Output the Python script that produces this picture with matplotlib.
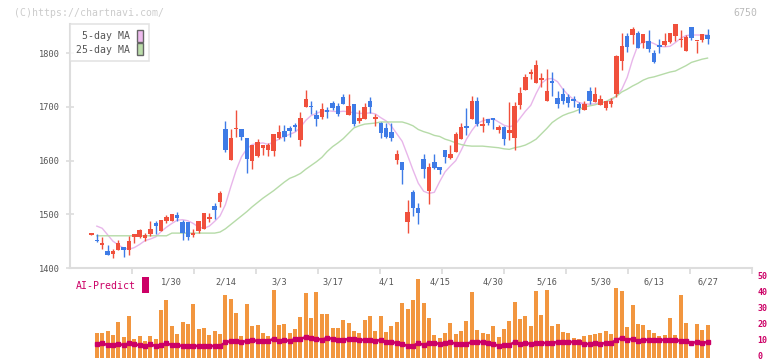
import matplotlib
matplotlib.use('Agg')
import matplotlib.pyplot as plt
import matplotlib.transforms as mtransforms
from matplotlib.patches import Rectangle, Patch

# ---------------- data ----------------
opens = [1462, 1453, 1443.5, 1431, 1427, 1433, 1440, 1433, 1458, 1458,
         1456, 1463, 1484, 1469, 1488, 1488, 1499, 1485, 1485, 1461,
         1469, 1472, 1492, 1515, 1523, 1658, 1602, 1658, 1658, 1643,
         1599, 1609, 1624, 1620, 1618, 1643, 1655, 1660, 1666, 1638,
         1700, 1702, 1685, 1681, 1694, 1707, 1701, 1718, 1685, 1705,
         1674, 1677, 1712, 1678, 1670, 1660, 1653, 1601, 1597, 1486,
         1541, 1511, 1603, 1544, 1597, 1588, 1619, 1604, 1616, 1641,
         1664, 1677, 1711, 1665, 1677, 1679, 1657, 1662, 1651, 1642,
         1703, 1731, 1761, 1744, 1751, 1711, 1748, 1717, 1725, 1718,
         1715, 1705, 1694, 1729, 1709, 1704, 1698, 1706, 1724, 1785,
         1832, 1834, 1837, 1819, 1822, 1800, 1815, 1815, 1821, 1832,
         1824, 1804, 1848, 1822, 1825, 1834]
highs = [1462.6, 1463, 1457, 1442, 1436, 1453, 1440, 1460, 1463, 1472,
         1466, 1487, 1488, 1490, 1499, 1501, 1504, 1490, 1485, 1472,
         1487, 1502, 1503, 1521, 1543, 1674, 1658, 1694, 1658, 1643,
         1630, 1640, 1628.5, 1632, 1649, 1666, 1666, 1664, 1671, 1691,
         1731, 1712, 1694, 1707, 1699, 1712, 1707, 1725, 1724, 1705,
         1694, 1707, 1718, 1686, 1672, 1671, 1671, 1619, 1597, 1526,
         1545, 1522, 1612, 1596, 1612, 1589, 1619, 1630, 1653, 1671,
         1698, 1720, 1718, 1681, 1677, 1679, 1666, 1664, 1709, 1709,
         1737, 1761, 1770, 1787, 1763, 1770, 1765, 1729, 1735, 1724,
         1720, 1709, 1712, 1737, 1738, 1722, 1712, 1716, 1796, 1837,
         1837, 1848, 1841, 1835, 1843, 1806, 1826, 1837, 1837, 1854,
         1843, 1834, 1848, 1822.6, 1835, 1845]
lows = [1462, 1448, 1435, 1424, 1419, 1433, 1420, 1424, 1447, 1455,
        1450, 1460, 1463, 1469, 1483, 1488, 1487, 1452, 1452, 1458,
        1466, 1472, 1486, 1492, 1514, 1616, 1601, 1644, 1639, 1577,
        1584, 1606, 1610, 1608, 1608, 1640, 1636, 1644, 1655, 1627,
        1700, 1686, 1664, 1677, 1679, 1694, 1683, 1706, 1685, 1664,
        1671, 1677, 1688, 1664, 1642, 1642, 1637, 1594, 1557, 1465,
        1497, 1482, 1568, 1519, 1585, 1575, 1595, 1603, 1616, 1641,
        1647, 1677, 1664, 1653, 1666, 1658, 1651, 1630, 1638, 1620,
        1696, 1731, 1752, 1744, 1737, 1711, 1720, 1698, 1706, 1700,
        1700, 1689, 1694, 1705, 1709, 1704, 1694, 1700, 1719, 1768,
        1802, 1817, 1810, 1810, 1802, 1782, 1800, 1814, 1819, 1822,
        1811, 1804, 1824, 1801, 1821, 1817]
closes = [1462.6, 1450, 1447, 1424, 1431, 1446, 1433, 1450, 1463, 1470,
          1462, 1472, 1478, 1489, 1495, 1500, 1493, 1465, 1458, 1466,
          1487, 1502, 1495, 1508, 1539, 1619, 1642, 1658.6, 1644, 1603,
          1630, 1634, 1628.5, 1630, 1649, 1653, 1644, 1656, 1663, 1680,
          1714, 1699, 1677, 1696, 1691, 1698, 1687, 1706, 1702, 1668,
          1679, 1699, 1699, 1678.6, 1652, 1644, 1642, 1612, 1582, 1504,
          1512, 1503, 1585, 1589, 1586, 1582, 1606, 1612, 1649, 1662,
          1660, 1711, 1668, 1668, 1670, 1676, 1662, 1640, 1657, 1701,
          1726, 1755, 1765, 1778, 1752.6, 1729, 1745, 1706, 1711, 1707,
          1711, 1698, 1705, 1712, 1724, 1714, 1712, 1712, 1794, 1813,
          1812, 1845, 1810, 1835, 1808, 1784, 1811, 1822, 1837, 1854,
          1824.6, 1830, 1828, 1822.6, 1835, 1827]

# moving averages, volume and AI-Predict (days 1..115)
ma5 = [1478, 1474, 1462, 1450, 1443, 1437, 1435, 1438, 1444, 1451,
       1454, 1458, 1468, 1476, 1483, 1489, 1490, 1488, 1483, 1476,
       1474, 1478, 1487, 1497, 1518, 1551, 1582, 1607, 1622, 1630,
       1632, 1633, 1630, 1635, 1640, 1645, 1649, 1653, 1662, 1675,
       1684, 1688, 1692, 1693, 1692, 1691, 1692, 1691, 1689, 1688,
       1688, 1689, 1687, 1680, 1674, 1664, 1650, 1636, 1610, 1583,
       1558, 1543, 1539, 1541, 1561, 1579, 1590, 1600, 1619, 1640,
       1656, 1669, 1674, 1677, 1678, 1672, 1666, 1663, 1666, 1679,
       1692, 1703, 1725, 1744, 1752, 1753, 1747, 1733, 1722, 1714,
       1708, 1706, 1705, 1706, 1708, 1709, 1712, 1721, 1733, 1755,
       1788, 1815, 1821, 1822, 1818, 1813, 1812, 1813, 1820, 1828,
       1833, 1834, 1834, 1834, 1834]
ma25 = [1460, 1460, 1460, 1460, 1460, 1460, 1460, 1460, 1460, 1460,
        1460, 1460, 1460, 1460, 1465, 1465, 1465, 1465, 1465, 1465,
        1465, 1465, 1465, 1467, 1473, 1481, 1489, 1497, 1505, 1514,
        1522, 1530, 1537, 1544, 1552, 1560, 1567, 1571, 1576, 1584,
        1591, 1598, 1606, 1617, 1626, 1633, 1641, 1651, 1661, 1665,
        1668, 1669, 1670, 1672, 1672, 1672, 1672, 1672, 1669, 1665,
        1658, 1654, 1651, 1647, 1645, 1640, 1637, 1633, 1630, 1628,
        1627, 1627, 1627, 1626, 1625, 1624, 1622, 1621, 1624, 1626,
        1629, 1634, 1640, 1650, 1660, 1671, 1678, 1684, 1688, 1691,
        1695, 1700, 1702, 1704, 1707, 1710, 1715, 1720, 1728, 1733,
        1739, 1744, 1750, 1754, 1756, 1759, 1762, 1765, 1767, 1772,
        1777, 1783, 1786, 1789, 1791]
volume = [15.8, 15.8, 16.9, 14.4, 22.5, 13.1, 26.5, 11.9, 13.8, 10.6,
          13.8, 11.9, 30.0, 36.3, 20.0, 15.0, 22.5, 21.5, 33.8, 18.1,
          18.8, 14.4, 16.9, 15.2, 39.4, 36.9, 28.1, 13.8, 33.8, 20.0,
          20.6, 15.8, 13.8, 42.5, 20.6, 21.5, 15.8, 18.1, 25.6, 40.6,
          25.0, 41.3, 27.5, 27.5, 18.8, 18.8, 23.8, 21.9, 16.9, 15.6,
          23.8, 26.3, 16.9, 26.3, 16.3, 20.0, 22.5, 34.4, 30.6, 36.3,
          49.4, 34.4, 25.0, 14.4, 12.5, 15.6, 21.9, 15.0, 16.9, 23.1,
          41.3, 17.5, 15.6, 15.0, 20.0, 13.1, 18.1, 23.1, 35.0, 24.4,
          26.3, 20.0, 41.9, 26.9, 42.5, 20.0, 21.3, 16.3, 15.6, 12.5,
          11.9, 13.8, 14.4, 15.0, 15.6, 16.9, 15.0, 43.8, 41.9, 19.4,
          33.1, 21.3, 20.6, 17.5, 15.6, 13.8, 14.4, 25.0, 14.4, 39.4,
          21.9, 0.0, 21.3, 17.5, 20.6]
ai_predict = [8.8, 9.2, 8.1, 8.1, 8.8, 8.1, 9.2, 8.5, 8.1, 7.5,
              8.5, 7.5, 8.1, 9.2, 8.1, 8.1, 7.5, 7.5, 7.5, 7.5,
              7.5, 7.5, 7.5, 7.5, 9.8, 10.6, 10.6, 10.0, 10.6, 11.3,
              10.6, 10.6, 10.6, 12.0, 10.6, 11.3, 10.6, 11.9, 11.9, 13.1,
              12.3, 12.1, 11.3, 12.7, 11.9, 11.3, 11.3, 11.9, 11.9, 11.3,
              11.3, 11.3, 10.6, 11.3, 10.0, 10.0, 9.4, 8.8, 7.5, 7.5,
              9.4, 8.1, 9.4, 9.4, 8.8, 9.4, 10.0, 8.8, 8.8, 8.8,
              10.0, 10.0, 10.0, 9.4, 8.8, 7.5, 8.1, 8.1, 10.0, 8.8,
              9.4, 8.8, 9.4, 9.4, 9.4, 9.4, 10.0, 10.0, 10.0, 10.0,
              10.0, 8.8, 8.8, 9.4, 8.8, 9.4, 9.4, 11.3, 12.5, 11.3,
              11.9, 10.6, 11.3, 11.3, 11.3, 11.3, 11.3, 11.3, 11.3, 10.6,
              10.6, 9.4, 10.0, 9.4, 10.0]

date_labels = ['1/30', '2/14', '3/3', '3/17', '4/1', '4/15', '4/30',
               '5/16', '5/30', '6/13', '6/27']
date_label_idx = [15, 25, 35, 45, 55, 65, 75, 85, 95, 105, 115]
price_ticks = [1400, 1500, 1600, 1700, 1800]
vol_ticks = [0, 10, 20, 30, 40, 50]

# ---------------- style ----------------
UP = '#f0503c'
DOWN = '#3e7be6'
MA5_C = '#e8b6ea'
MA25_C = '#b6dba8'
VOL_C = '#f2963f'
AI_C = '#cc0066'
GRID_C = '#dddddd'
MONO = 'DejaVu Sans Mono'

W, H = 772, 361
fig = plt.figure(figsize=(W / 100, H / 100), dpi=100)
fig.patch.set_facecolor('white')


def fx(px):
    return px / W


def fy(py):
    return 1 - py / H


ax = fig.add_axes([fx(70), fy(268), fx(752) - fx(70), fy(24) - fy(268)])
axv = fig.add_axes([fx(70), 0, fx(752) - fx(70), fy(275)])
axv.set_zorder(-1)

n = len(opens)
idx = list(range(n))
sub_idx = list(range(1, n))
xmin, xmax = -4.01, 123.3

# candles
for i in idx:
    o, h, l, c = opens[i], highs[i], lows[i], closes[i]
    col = UP if c >= o else DOWN
    ax.vlines(i, l, h, color=col, lw=1.0, zorder=3, clip_on=False)
    bot = min(o, c)
    hgt = max(abs(c - o), 2.8)
    ax.bar(i, hgt, bottom=bot, width=0.82, color=col, lw=0, zorder=4, clip_on=False)

ax.plot(sub_idx, ma5, color=MA5_C, lw=1.0, zorder=2)
ax.plot(sub_idx, ma25, color=MA25_C, lw=1.0, zorder=2)

ax.set_xlim(xmin, xmax)
ax.set_ylim(1400, 1854.5)
ax.set_facecolor('none')
for s in ['top', 'right']:
    ax.spines[s].set_visible(False)
for s in ['left', 'bottom']:
    ax.spines[s].set_color(GRID_C)
    ax.spines[s].set_linewidth(1.5)
ax.set_yticks(price_ticks)
ax.set_yticklabels([str(t) for t in price_ticks], family=MONO, fontsize=6.2, color='#555555')
ax.tick_params(axis='y', direction='inout', length=5.8, width=1.2, color=GRID_C, pad=4.0)
ax.set_xticks([xmin + k / 11 * (xmax - xmin) for k in range(1, 12)])
ax.set_xticklabels([])
ax.tick_params(axis='x', direction='out', length=4.0, width=1.3, color=GRID_C)

handles = [Patch(facecolor='#eebbee', edgecolor='#666666', lw=1.0),
           Patch(facecolor='#bbddaa', edgecolor='#666666', lw=1.0)]
leg = ax.legend(handles, ['5-day MA', '25-day MA'], loc='upper left',
                bbox_to_anchor=(0, 1), borderaxespad=0, markerfirst=False,
                frameon=True, fancybox=False,
                prop={'family': MONO, 'size': 7.1}, labelcolor='#555555',
                handlelength=0.6, handleheight=1.5, handletextpad=0.7,
                labelspacing=0.15, borderpad=0.6)
leg.get_frame().set_edgecolor(GRID_C)
leg.get_frame().set_linewidth(1.2)

# volume / AI panel
axv.bar(sub_idx, volume, width=0.75, color=VOL_C, lw=0, zorder=2)
axv.plot(sub_idx, ai_predict, color=AI_C, lw=1.8, marker='s', ms=2.4, zorder=3)
axv.set_xlim(xmin, xmax)
axv.set_ylim(-1.87, 51.87)
axv.set_facecolor('none')
for s in axv.spines.values():
    s.set_visible(False)
axv.set_xticks([])
axv.yaxis.tick_right()
axv.set_yticks(vol_ticks)
axv.set_yticklabels([str(t) for t in vol_ticks], family=MONO, fontsize=6.0,
                    color=AI_C, fontweight='bold')
axv.tick_params(axis='y', length=0, pad=3.8)
shift_up = mtransforms.ScaledTranslation(0, 1.6 / 72, fig.dpi_scale_trans)
for lab in axv.get_yticklabels():
    lab.set_transform(lab.get_transform() + shift_up)

trans = mtransforms.blended_transform_factory(ax.transData, fig.transFigure)
for lab, i in zip(date_labels, date_label_idx):
    fig.text(i, fy(282), lab, transform=trans, ha='center', va='center',
             family=MONO, fontsize=6.2, color='#555555')

fig.text(fx(14), fy(12.5), '(C)https://chartnavi.com/', ha='left', va='center',
         family=MONO, fontsize=7.1, color='#cccccc')
fig.text(fx(757), fy(12.5), '6750', ha='right', va='center',
         family=MONO, fontsize=7.1, color='#bbbbbb')
fig.text(fx(76), fy(286), 'AI-Predict', ha='left', va='center',
         family=MONO, fontsize=7.1, color=AI_C)
fig.patches.append(Rectangle((fx(142), fy(293)), fx(149) - fx(142), fy(277) - fy(293),
                             transform=fig.transFigure, facecolor=AI_C, edgecolor='none'))

fig.savefig('out.png', dpi=100, facecolor='white')
